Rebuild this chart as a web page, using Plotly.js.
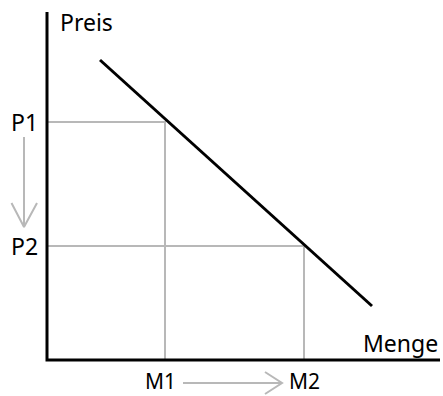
<!DOCTYPE html>
<html>
<head>
<meta charset="utf-8">
<script src="https://cdn.plot.ly/plotly-3.0.1.min.js"></script>
<style>
  html, body { margin: 0; padding: 0; background: #ffffff; }
  #chart { width: 443px; height: 396px; }
</style>
</head>
<body>
<div id="chart"></div>
<script>
// Price / quantity diagram: a falling demand curve, two price levels
// and the quantities demanded at each of them.
const priceLevels = [23.8, 11.4];          // P1, P2
const priceLabels = ["P1", "P2"];
const quantityLevels = [11.8, 25.7];       // M1, M2
const quantityLabels = ["M1", "M2"];
const demandX = [5.3, 32.5];
const demandY = [30.0, 5.4];
const axisMaxX = 39.3;
const axisMaxY = 34.8;
const axisTitles = ["Preis", "Menge"];

const GUIDE = "#b8b8b8";
const INK = "#000000";

const traces = [];

// guide lines from the axes to the demand curve
priceLevels.forEach((p, i) => {
  const q = quantityLevels[i];
  traces.push({
    x: [0, q, q], y: [p, p, 0],
    mode: "lines", line: { color: GUIDE, width: 2 },
    hoverinfo: "skip"
  });
});

// demand curve
traces.push({
  x: demandX, y: demandY,
  mode: "lines", line: { color: INK, width: 3 },
  hoverinfo: "skip"
});

// coordinate axes
traces.push({
  x: [0, 0, axisMaxX], y: [axisMaxY, 0, 0],
  mode: "lines", line: { color: INK, width: 3 },
  hoverinfo: "skip"
});

// arrow showing the price falling from P1 to P2
const pArrowX = -2.3;
const pArrowTop = priceLevels[0] - 1.5;
const pArrowTip = priceLevels[1] + 1.9;
traces.push({
  x: [pArrowX, pArrowX, null, pArrowX - 1.25, pArrowX, pArrowX + 1.3],
  y: [pArrowTop, pArrowTip, null, pArrowTip + 2.4, pArrowTip, pArrowTip + 2.4],
  mode: "lines", line: { color: GUIDE, width: 2 },
  hoverinfo: "skip"
});

// arrow showing the quantity rising from M1 to M2
const qArrowY = -2.3;
const qArrowStart = quantityLevels[0] + 1.8;
const qArrowTip = quantityLevels[1] - 2.2;
traces.push({
  x: [qArrowStart, qArrowTip, null, qArrowTip - 1.7, qArrowTip, qArrowTip - 1.7],
  y: [qArrowY, qArrowY, null, qArrowY + 1.1, qArrowY, qArrowY - 1.1],
  mode: "lines", line: { color: GUIDE, width: 2 },
  hoverinfo: "skip"
});

const FONT = { family: "Noto Sans, Open Sans, sans-serif", size: 23, color: "#000000" };
const FONT_BOTTOM = { family: "Noto Sans, Open Sans, sans-serif", size: 21, color: "#000000" };

const annotations = [];
priceLevels.forEach((p, i) => {
  annotations.push({
    x: -0.7, y: p, xref: "x", yref: "y",
    text: priceLabels[i], showarrow: false,
    xanchor: "right", yanchor: "middle", font: FONT
  });
});
quantityLevels.forEach((q, i) => {
  annotations.push({
    x: q - (i === 0 ? 0.5 : 0), y: -2.1, xref: "x", yref: "y",
    text: quantityLabels[i], showarrow: false,
    xanchor: "center", yanchor: "middle", font: FONT_BOTTOM
  });
});
annotations.push({
  x: 1.1, y: 33.8, xref: "x", yref: "y",
  text: axisTitles[0], showarrow: false,
  xanchor: "left", yanchor: "middle", font: FONT
});
annotations.push({
  x: axisMaxX, y: 1.7, xref: "x", yref: "y",
  text: axisTitles[1], showarrow: false,
  xanchor: "right", yanchor: "middle", font: FONT
});

const layout = {
  width: 443, height: 396,
  margin: { l: 0, r: 0, t: 0, b: 0 },
  paper_bgcolor: "#ffffff", plot_bgcolor: "#ffffff",
  showlegend: false,
  xaxis: { range: [-4.7, 39.6], visible: false, fixedrange: true },
  yaxis: { range: [-3.6, 36.0], visible: false, fixedrange: true },
  annotations: annotations
};

Plotly.newPlot("chart", traces, layout, { staticPlot: true, displayModeBar: false });
</script>
</body>
</html>
